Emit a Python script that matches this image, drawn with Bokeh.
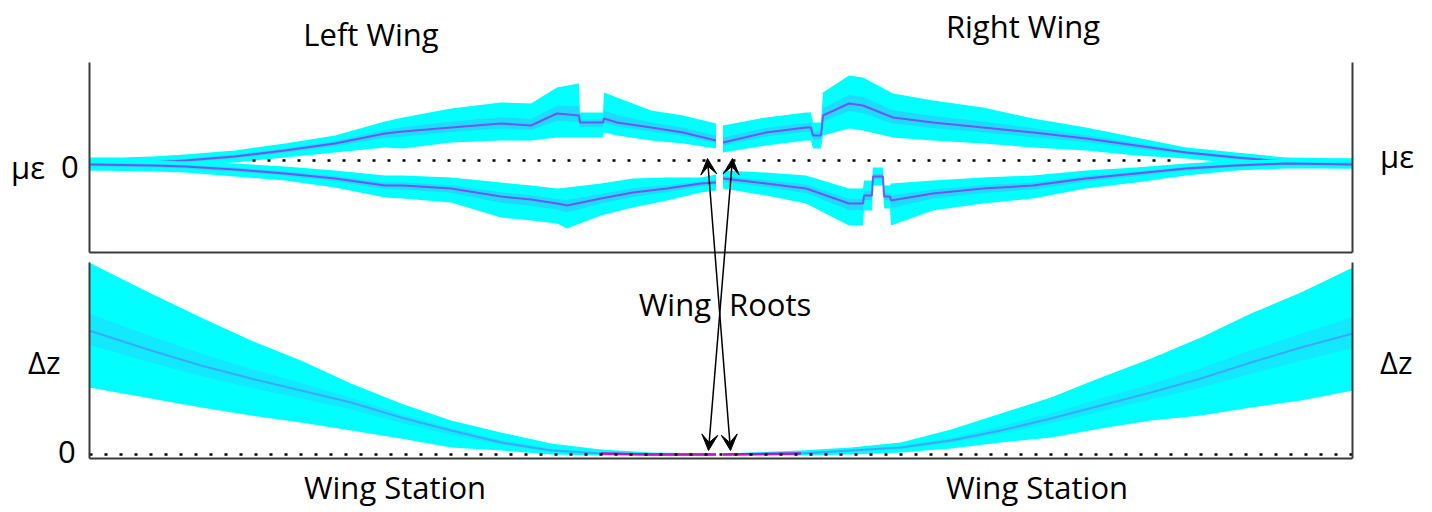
from bokeh.plotting import figure
from bokeh.models import ColumnDataSource, Range1d, Label, Arrow, VeeHead
from bokeh.embed import file_html
from bokeh.resources import INLINE

# ---------------- data (wing station: left wing negative, right wing positive) ----------------
# Strain (micro-strain, arbitrary units) - upper surface band, left wing
LU_X   = [-632, -600, -568, -536, -486, -436, -386, -336, -318, -270, -220, -190, -164, -142, -141, -118, -117, -104, -70, -38, -5]
LU_TOP = [3, 3, 4, 6, 10, 17, 25, 39, 43, 52, 58, 57, 73, 77, 48, 48, 68, 63, 50, 45, 37]
LU_MID = [-4, -3, -2, 0, 4, 10, 17, 27, 29, 33, 37, 35, 47, 45, 38, 38, 42, 38, 33, 28, 20]
LU_BOT = [-10, -9, -8, -6, -2, 3, 8, 13, 12, 18, 20, 20, 23, 23, 23, 23, 28, 25, 20, 17, 12]
# lower surface band, left wing
LL_X   = [-632, -568, -536, -486, -436, -386, -336, -318, -270, -220, -190, -164, -154, -120, -88, -54, -20, -5]
LL_TOP = [2, 0, -1, -3, -6, -10, -15, -15, -17, -22, -25, -28, -27, -23, -18, -17, -17, -14]
LL_MID = [-4, -5, -6, -9, -13, -18, -25, -25, -28, -36, -39, -43, -45, -38, -32, -28, -23, -22]
LL_BOT = [-10, -11, -12, -16, -20, -27, -37, -38, -42, -57, -60, -63, -68, -55, -47, -40, -32, -30]
# upper surface band, right wing
RU_X   = [2, 45, 85, 90, 92, 100, 102, 128, 142, 172, 212, 262, 312, 365, 415, 465, 515, 565, 632]
RU_TOP = [35, 43, 48, 48, 38, 38, 68, 85, 83, 67, 60, 53, 42, 33, 23, 13, 8, 3, 2]
RU_MID = [18, 28, 33, 33, 25, 25, 45, 57, 55, 43, 38, 33, 28, 22, 15, 8, 3, -1, -4]
RU_BOT = [8, 15, 20, 20, 12, 12, 25, 32, 30, 23, 20, 17, 13, 10, 5, 2, -3, -7, -8]
# lower surface band, right wing
RL_X   = [2, 45, 85, 128, 142, 143, 151, 152, 162, 163, 169, 170, 212, 262, 312, 365, 415, 465, 515, 565, 632]
RL_TOP = [-10, -12, -15, -28, -28, -20, -20, -7, -7, -25, -25, -23, -20, -17, -15, -10, -7, -3, 0, 1, 2]
RL_MID = [-18, -23, -28, -43, -43, -35, -35, -16, -16, -36, -36, -40, -33, -28, -25, -18, -13, -8, -5, -3, -4]
RL_BOT = [-28, -35, -43, -65, -65, -50, -50, -25, -25, -48, -48, -65, -50, -43, -38, -28, -22, -15, -10, -8, -8]

# Vertical displacement (dz) band, left wing
DL_X   = [-632, -570, -520, -470, -420, -370, -320, -270, -220, -170, -120, -70, -5]
DL_TOP = [192, 161, 137, 114, 94, 71, 51, 34, 22, 11, 5, 2, 1]
DL_MID = [124, 104, 89, 76, 64, 52, 37, 24, 12, 4, 1, 0, 0]
DL_BOT = [67, 56, 47, 39, 32, 24, 16, 7, 4, 0, -1, -1, -1]
# dz band, right wing
DR_X   = [2, 80, 130, 180, 230, 280, 330, 380, 430, 480, 530, 580, 632]
DR_TOP = [1, 4, 7, 12, 25, 41, 57, 77, 96, 117, 141, 162, 187]
DR_MID = [0, 1, 4, 7, 14, 24, 36, 49, 62, 76, 92, 107, 121]
DR_BOT = [-1, -1, 0, 2, 6, 12, 17, 26, 34, 39, 47, 54, 64]

# frame / reference geometry (data units)
TIP_L, TIP_R = -631.5, 631.5
STRAIN_TOP, STRAIN_BOT = 98, -92          # top panel extent (strain units)
DZ_TOP, DZ_BOT = 192, -4                  # bottom panel extent (dz units)
STRAIN_ZERO_X = [-468.5, 451.5]

CYAN = "#00FFFF"
INNER = "#3AB6FF"
PURPLE = "#7F3FF0"
MAGENTA = "#C010C8"
FRAME = "#3a3a3a"
FONT = "Open Sans"

W, H = 1432, 506
p = figure(width=W, height=H, x_range=Range1d(-720.5, 711.5), y_range=Range1d(-52, 454),
           output_backend="svg", toolbar_location=None, x_axis_location=None, y_axis_location=None,
           min_border_left=0, min_border_right=0, min_border_top=0, min_border_bottom=0,
           outline_line_color=None, background_fill_color="white", border_fill_color="white")
p.extra_y_ranges = {"strain": Range1d(-346, 160)}
p.xgrid.grid_line_color = None
p.ygrid.grid_line_color = None


def band(xs, top, mid, bot, yname, line_color=PURPLE, line_alpha=0.85, inner=0.3, inner_alpha=0.5):
    itop = [m + inner * (t - m) for t, m in zip(top, mid)]
    ibot = [m - inner * (m - b) for b, m in zip(bot, mid)]
    src = ColumnDataSource(dict(x=xs, top=top, mid=mid, bot=bot, itop=itop, ibot=ibot))
    p.varea(x="x", y1="bot", y2="top", source=src, fill_color=CYAN, y_range_name=yname)
    p.varea(x="x", y1="ibot", y2="itop", source=src, fill_color=INNER, fill_alpha=inner_alpha,
            y_range_name=yname)
    p.line(x="x", y="mid", source=src, line_color=line_color, line_width=2, line_alpha=line_alpha,
           y_range_name=yname)


band(LU_X, LU_TOP, LU_MID, LU_BOT, "strain")
band(LL_X, LL_TOP, LL_MID, LL_BOT, "strain")
band(RU_X, RU_TOP, RU_MID, RU_BOT, "strain")
band(RL_X, RL_TOP, RL_MID, RL_BOT, "strain")
band(DL_X, DL_TOP, DL_MID, DL_BOT, "default", line_color="#6A5CFF", line_alpha=0.45, inner=0.25, inner_alpha=0.3)
band(DR_X, DR_TOP, DR_MID, DR_BOT, "default", line_color="#6A5CFF", line_alpha=0.45, inner=0.25, inner_alpha=0.3)

# magenta trace where the dz band collapses near the roots
for xs, top, mid, bot in ((DL_X, DL_TOP, DL_MID, DL_BOT), (DR_X, DR_TOP, DR_MID, DR_BOT)):
    sel = [i for i in range(len(xs)) if top[i] - bot[i] <= 6]
    p.line([xs[i] for i in sel], [mid[i] for i in sel], line_color=MAGENTA, line_width=2.5)

# zero reference lines (dotted)
p.line(STRAIN_ZERO_X, [0, 0], y_range_name="strain", line_color="black", line_width=2.5, line_dash="3 12")
p.line([TIP_L, TIP_R], [0, 0], line_color="black", line_width=2.5, line_dash="3 12")

# panel frames
p.segment(x0=[TIP_L, TIP_R, TIP_L], y0=[STRAIN_BOT, STRAIN_BOT, STRAIN_BOT],
          x1=[TIP_L, TIP_R, TIP_R], y1=[STRAIN_TOP, STRAIN_TOP, STRAIN_BOT],
          y_range_name="strain", line_color=FRAME, line_width=2)
p.segment(x0=[TIP_L, TIP_R, TIP_L], y0=[DZ_BOT, DZ_BOT, DZ_BOT],
          x1=[TIP_L, TIP_R, TIP_R], y1=[DZ_TOP, DZ_TOP, DZ_BOT],
          line_color=FRAME, line_width=2)

# wing-root arrows
for xs, xe in ((-13.5, 9.5), (11.5, -12.5)):
    p.add_layout(Arrow(x_start=xs, y_start=296, x_end=xe, y_end=4, line_color="black", line_width=1.5,
                       start=VeeHead(size=16, fill_color="black", line_color="black"),
                       end=VeeHead(size=16, fill_color="black", line_color="black")))

# text
def lab(x, y, text, align="left"):
    p.add_layout(Label(x=x, y=y, text=text, text_align=align, text_baseline="alphabetic",
                       text_font=FONT, text_font_size="31px", text_color="black"))

lab(-350, 421, "Left Wing", "center")
lab(302, 429, "Right Wing", "center")
lab(-710, 288, "με")
lab(-660, 288, "0")
lab(659, 299, "με")
lab(-693, 93, "Δz")
lab(659, 93, "Δz")
lab(-663, 3, "0")
lab(-10, 151, "Wing", "right")
lab(8, 151, "Roots")
lab(-326, -32, "Wing Station", "center")
lab(316, -32, "Wing Station", "center")

open("out.html", "w").write(file_html(p, INLINE))
